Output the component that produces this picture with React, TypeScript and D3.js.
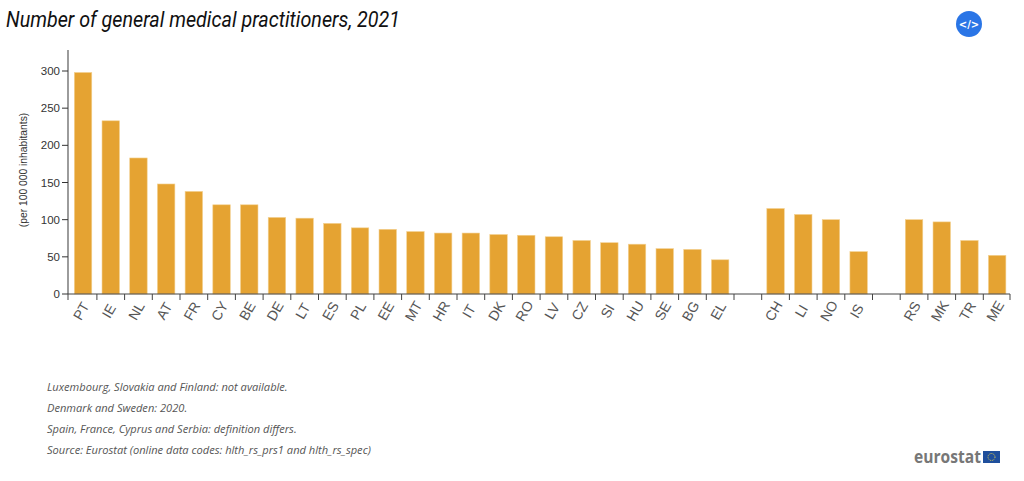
import React from "react";
import * as d3 from "d3";

const title = "Number of general medical practitioners, 2021";
const yLabel = "(per 100 000 inhabitants)";
const categories = ["PT","IE","NL","AT","FR","CY","BE","DE","LT","ES","PL","EE","MT","HR","IT","DK","RO","LV","CZ","SI","HU","SE","BG","EL","gap1","CH","LI","NO","IS","gap2","RS","MK","TR","ME"];
const values = [298,233,183,148,138,120,120,103,102,95,89,87,84,82,82,80,79,77,72,69,67,61,60,46,null,115,107,100,57,null,100,97,72,52];
const yTicks = [0,50,100,150,200,250,300];
const notes = [
  "Luxembourg, Slovakia and Finland: not available.",
  "Denmark and Sweden: 2020.",
  "Spain, France, Cyprus and Serbia: definition differs.",
  "Source: Eurostat (online data codes: hlth_rs_prs1 and hlth_rs_spec)",
];
const noteY = [391, 412, 433, 454];

const W = 1024, H = 481;
const x = d3.scaleBand<string>().domain(categories).range([69.2, 1011]).paddingInner(0.37).paddingOuter(0.185);
const y = d3.scaleLinear().domain([0, 300]).range([294, 71]);
const step = x.step();
const axisFont = "'Liberation Sans', Arial, sans-serif";

export default function App() {
  return (
    <svg width={W} height={H} style={{ position: "absolute", left: 0, top: 0, background: "#fff" }}>
      <text x={6} y={27} fontFamily="Roboto" fontStyle="italic" fontSize={22} fill="#111" textLength={394} lengthAdjust="spacingAndGlyphs">{title}</text>

      <circle cx={969} cy={24} r={13} fill="#2a75e6" />
      <text x={969} y={28} textAnchor="middle" fontFamily="'DejaVu Sans'" fontWeight="bold" fontSize={10} fill="#fff">{"</>"}</text>

      {categories.map((c, i) => values[i] == null ? null : (
        <rect key={c} x={x(c)} y={y(values[i] as number)} width={x.bandwidth()} height={294 - y(values[i] as number)}
          fill="#e5a332" stroke="#f3d191" strokeWidth={0.6} />
      ))}

      <line x1={68} x2={68} y1={50} y2={294} stroke="#666" strokeWidth={1.3} />
      <line x1={68} x2={1010} y1={294} y2={294} stroke="#444" strokeWidth={1} />
      {yTicks.map(t => (
        <g key={t}>
          <line x1={62} x2={68} y1={y(t)} y2={y(t)} stroke="#333" strokeWidth={1} />
          <text x={60} y={y(t) + 4} textAnchor="end" fontFamily={axisFont} fontSize={11.5} fill="#333">{t}</text>
        </g>
      ))}
      {d3.range(categories.length + 1).map(i => {
        const tx = i === 0 ? 68 : Math.min(1010, 69.2 + i * step);
        return <line key={i} x1={tx} x2={tx} y1={294} y2={300} stroke="#444" strokeWidth={1} />;
      })}
      {categories.map(c => c.startsWith("gap") ? null : (
        <text key={c} textAnchor="middle" fontFamily={axisFont} fontSize={14} fill="#555"
          transform={`translate(${(x(c) as number) + x.bandwidth() / 2 - 2},${311}) rotate(-60)`} dy={5}>{c}</text>
      ))}
      <text transform="translate(27,170) rotate(-90)" textAnchor="middle" fontFamily={axisFont} fontSize={10.3} fill="#333">{yLabel}</text>

      {notes.map((n, i) => (
        <text key={n} x={47} y={noteY[i]} fontFamily="'Open Sans'" fontStyle="italic" fontSize={11.1} fill="#555">{n}</text>
      ))}

      <text x={914} y={463} fontFamily="'Open Sans'" fontWeight="bold" fontSize={17} fill="#777" textLength={67} lengthAdjust="spacingAndGlyphs">eurostat</text>
      <rect x={983} y={451} width={17} height={12} fill="#1f4f9c" />
      <circle cx={991.5} cy={457} r={3.5} fill="none" stroke="#e8d44a" strokeWidth={1} strokeDasharray="1 1" />
    </svg>
  );
}
